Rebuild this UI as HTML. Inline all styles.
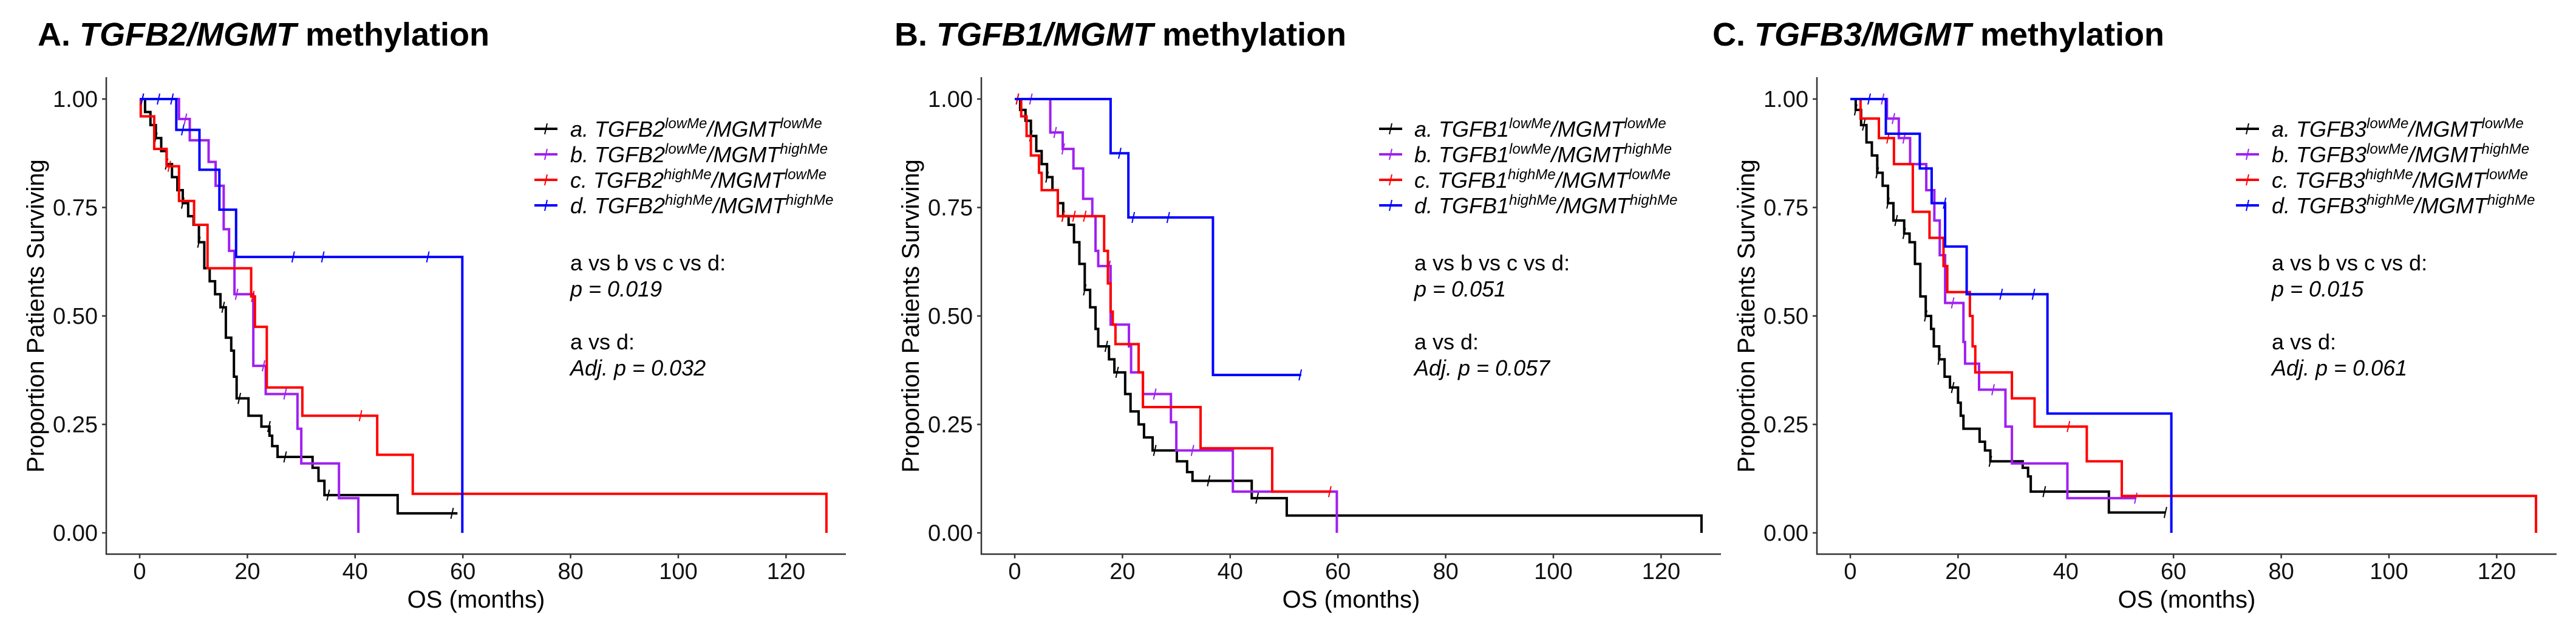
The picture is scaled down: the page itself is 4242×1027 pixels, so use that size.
<!DOCTYPE html>
<html><head><meta charset="utf-8"><style>
html,body{margin:0;padding:0;background:#fff}
svg{display:block;font-family:"Liberation Sans",Arial,sans-serif}
</style></head><body>
<svg id="fig" width="4242" height="1027" viewBox="0 0 4242 1027" xmlns="http://www.w3.org/2000/svg"></svg>
<script>
// ---- shared axis data ----
const xTickLabels = [0, 20, 40, 60, 80, 100, 120];
const yTickLabels = [0, 0.25, 0.5, 0.75, 1];
const panelLetters = ["A.", "B.", "C."];
const genes = ["TGFB2", "TGFB1", "TGFB3"];
const pOverall = ["0.019", "0.051", "0.015"];
const pAdj = ["0.032", "0.057", "0.061"];
const groupLetters = ["a.", "b.", "c.", "d."];
const sup1 = ["lowMe", "lowMe", "highMe", "highMe"];
const sup2 = ["lowMe", "highMe", "lowMe", "highMe"];

// ---- Panel A (TGFB2) ----
const A_a_t = [0,1,2,3,4,5,6,7,8,9,10,11,12,13,14,15,16,17,17.5,18,20.2,22.6,24.1,24.6,25.6,32.1,33.2,34.3,47.9,59];
const A_a_s = [1,0.97,0.94,0.91,0.88,0.85,0.82,0.79,0.76,0.73,0.71,0.67,0.61,0.58,0.55,0.52,0.45,0.42,0.36,0.31,0.27,0.245,0.224,0.2,0.175,0.15,0.12,0.087,0.045,0.045];
const A_b_t = [0,7.3,9.3,12.8,14.1,15.6,16.6,17.6,21.1,23.4,29.3,30,37,40.6];
const A_b_s = [1,0.954,0.905,0.855,0.8,0.7,0.65,0.55,0.385,0.32,0.24,0.16,0.08,0];
const A_c_t = [0,0.2,2.7,5,7.3,10.1,12.6,20.7,21.4,23.6,30.2,44.1,50.7,127.5];
const A_c_s = [1,0.96,0.885,0.845,0.765,0.71,0.61,0.545,0.475,0.335,0.27,0.18,0.09,0];
const A_d_t = [0,6.8,11.1,14.8,17.9,59.9];
const A_d_s = [1,0.929,0.837,0.745,0.636,0];
const A_a_cens = [0.5,3,5,8,11,15.5,18.5,24,27,35,58];
const A_b_cens = [8.5,18,23,27];
const A_c_cens = [5.5,21,41];
const A_d_cens = [0.5,3.5,6,8,28.5,34,53.5];

// ---- Panel B (TGFB1) ----
const B_a_t = [0,1,2,3,4,5,6,7,8,9,10,11,12,13,14,15,15.5,17.5,18.5,20.5,21.5,23,24,25.6,30.1,32,33,44,50.5,127.5];
const B_a_s = [1,0.975,0.95,0.915,0.88,0.85,0.82,0.79,0.76,0.73,0.71,0.67,0.62,0.56,0.52,0.47,0.43,0.4,0.37,0.32,0.28,0.25,0.22,0.19,0.165,0.14,0.12,0.08,0.04,0];
const B_b_t = [0,6.6,8.9,10.9,12.7,14.4,15,15.5,17.8,21.2,21.6,23.8,29,30,40.5,59.8];
const B_b_s = [1,0.923,0.885,0.84,0.77,0.73,0.65,0.615,0.48,0.43,0.37,0.32,0.255,0.19,0.095,0];
const B_c_t = [0,1.2,2.2,3,4.5,5,8,16.6,17.3,17.8,18.2,18.7,23,23.8,34.5,47.8,58.7];
const B_c_s = [1,0.96,0.915,0.87,0.83,0.79,0.73,0.65,0.575,0.51,0.48,0.435,0.37,0.29,0.195,0.095,0.095];
const B_d_t = [0,17.8,21.1,36.8,53.2];
const B_d_s = [1,0.875,0.727,0.364,0.364];
const B_a_cens = [0.5,3,6,9,13,17,19,26,36,45];
const B_b_cens = [3,7.5,9,17.5,26,33];
const B_c_cens = [0.5,9,11,13,58.5];
const B_d_cens = [19.5,22,28.5,53];

// ---- Panel C (TGFB3) ----
const C_a_t = [0,1,2,3,4,5,6,7,8,10,11,12,13,14,15,15.5,16.5,17.5,18.5,20,20.5,21,24,25,26,32,33,33.5,48,58.5];
const C_a_s = [1,0.975,0.94,0.9,0.87,0.83,0.8,0.76,0.72,0.69,0.67,0.62,0.545,0.5,0.47,0.43,0.4,0.36,0.335,0.3,0.27,0.24,0.21,0.19,0.165,0.15,0.13,0.095,0.047,0.047];
const C_b_t = [0,6.8,9,11.1,14.1,15.6,16.6,17.6,21,21.3,23.9,28.8,30,40.3,53];
const C_b_s = [1,0.955,0.91,0.85,0.79,0.72,0.64,0.53,0.44,0.39,0.33,0.245,0.16,0.08,0.08];
const C_c_t = [0,1.9,5.3,8.1,11.6,14.7,17.3,18,22.2,22.7,23.2,30,34.2,43.9,50.4,127.3];
const C_c_s = [1,0.955,0.91,0.85,0.74,0.68,0.615,0.555,0.5,0.43,0.37,0.31,0.245,0.165,0.085,0];
const C_d_t = [0,6.6,12.9,15.1,17.6,21.6,36.6,59.6];
const C_d_s = [1,0.92,0.84,0.76,0.66,0.55,0.275,0];
const C_a_cens = [1,2.5,5,7,8.5,10,14,16.5,19,26,36,58.5];
const C_b_cens = [6,8,10,19,26.5,53];
const C_c_cens = [7,40.5];
const C_d_cens = [3.5,17.5,28,34];

const colors = ["#000000", "#a020f0", "#ff0000", "#0000ff"];
const NS = "http://www.w3.org/2000/svg";
const svg = document.getElementById("fig");

const panels = [
  {x0: 230,  titleX: 62,   legLine: 880,  legText: 939,
   series: [[A_a_t,A_a_s,A_a_cens],[A_b_t,A_b_s,A_b_cens],[A_c_t,A_c_s,A_c_cens],[A_d_t,A_d_s,A_d_cens]]},
  {x0: 1671, titleX: 1473, legLine: 2271, legText: 2329,
   series: [[B_a_t,B_a_s,B_a_cens],[B_b_t,B_b_s,B_b_cens],[B_c_t,B_c_s,B_c_cens],[B_d_t,B_d_s,B_d_cens]]},
  {x0: 3047, titleX: 2820, legLine: 3682, legText: 3741,
   series: [[C_a_t,C_a_s,C_a_cens],[C_b_t,C_b_s,C_b_cens],[C_c_t,C_c_s,C_c_cens],[C_d_t,C_d_s,C_d_cens]]}
];
const PPM = 8.87, Y1 = 163, Y0 = 877;
function yS(v){ return Y0 - v * (Y0 - Y1); }

function mk(tag, attrs, parent){
  const e = document.createElementNS(NS, tag);
  for (const k in attrs) e.setAttribute(k, attrs[k]);
  (parent || svg).appendChild(e);
  return e;
}
function survAt(t, s, tt){
  let v = s[0];
  for (let i = 0; i < t.length; i++){ if (t[i] <= tt) v = s[i]; }
  return v;
}

panels.forEach((p, pi) => {
  const xS = m => p.x0 + m * PPM;
  const g = mk("g", {});
  
  

  // title
  const title = mk("text", {x: p.titleX, y: 75, "font-size": 54, "font-weight": "bold", fill: "#000"}, g);
  
  
  const t1 = mk("tspan", {}, title); t1.textContent = panelLetters[pi] + " ";
  const t2 = mk("tspan", {"font-style": "italic"}, title); t2.textContent = genes[pi] + "/MGMT";
  const t3 = mk("tspan", {}, title); t3.textContent = " methylation";

  // axes
  const left = p.x0 - 55, right = p.x0 + 1163;
  const yax = mk("line", {x1: left, y1: 127, x2: left, y2: 913, stroke: "#333", "stroke-width": 2.5}, g);
  
  
  const xax = mk("line", {x1: left - 1, y1: 912, x2: right, y2: 912, stroke: "#333", "stroke-width": 2.5}, g);
  
  

  yTickLabels.forEach(v => {
    const y = yS(v);
    const tk = mk("line", {x1: left - 7, y1: y, x2: left, y2: y, stroke: "#333", "stroke-width": 2.5}, g);
    
    
    const lb = mk("text", {x: left - 14, y: y + 13, "font-size": 38, "text-anchor": "end", fill: "#111"}, g);
    
    
    lb.textContent = v.toFixed(2);
  });
  xTickLabels.forEach(v => {
    const x = xS(v);
    const tk = mk("line", {x1: x, y1: 912, x2: x, y2: 919, stroke: "#333", "stroke-width": 2.5}, g);
    
    
    const lb = mk("text", {x: x, y: 953, "font-size": 38, "text-anchor": "middle", fill: "#111"}, g);
    
    
    lb.textContent = v;
  });
  const xt = mk("text", {x: (left + right) / 2, y: 1000, "font-size": 40, "text-anchor": "middle", fill: "#000"}, g);
  
  
  xt.textContent = "OS (months)";
  const ytx = p.x0 - 158;
  const yt = mk("text", {x: ytx, y: 520, "font-size": 40, "text-anchor": "middle", fill: "#000",
    transform: "rotate(-90 " + ytx + " 520)"}, g);
  
  
  yt.textContent = "Proportion Patients Surviving";

  // curves
  p.series.forEach((sr, si) => {
    const [t, s, cens] = sr;
    let d = "M" + xS(t[0]) + " " + yS(s[0]);
    for (let i = 1; i < t.length; i++){
      d += " H" + xS(t[i]) + " V" + yS(s[i]);
    }
    const path = mk("path", {d: d, fill: "none", stroke: colors[si], "stroke-width": 4, "stroke-linejoin": "miter"}, g);
    
    
    cens.forEach(c => {
      const cx = xS(c), cy = yS(survAt(t, s, c));
      const cm = mk("line", {x1: cx - 2, y1: cy + 9, x2: cx + 2, y2: cy - 9, stroke: colors[si], "stroke-width": 2}, g);
      
      
    });
  });

  // legend
  const legY = [212, 254, 296, 338];
  groupLetters.forEach((gl, si) => {
    const lg = mk("g", {}, g);
    
    
    mk("line", {x1: p.legLine, y1: legY[si], x2: p.legLine + 38, y2: legY[si], stroke: colors[si], "stroke-width": 4}, lg);
    mk("line", {x1: p.legLine + 17, y1: legY[si] + 9, x2: p.legLine + 21, y2: legY[si] - 9, stroke: colors[si], "stroke-width": 2}, lg);
    const tx = mk("text", {x: p.legText, y: legY[si] + 13, "font-size": 36, "font-style": "italic", fill: "#000"}, lg);
    const a = mk("tspan", {}, tx); a.textContent = gl + " " + genes[pi];
    const b = mk("tspan", {dy: -14, "font-size": 24}, tx); b.textContent = sup1[si];
    const c = mk("tspan", {dy: 14}, tx); c.textContent = "/MGMT";
    const d = mk("tspan", {dy: -14, "font-size": 24}, tx); d.textContent = sup2[si];
  });

  // stats
  const st = [["a vs b vs c vs d:", 445, false], ["p = " + pOverall[pi], 488, true],
              ["a vs d:", 575, false], ["Adj. p = " + pAdj[pi], 618, true]];
  st.forEach((r, ri) => {
    const e = mk("text", {x: p.legText, y: r[1], "font-size": 36, fill: "#000", "font-style": r[2] ? "italic" : "normal"}, g);
    
    
    e.textContent = r[0];
  });
});
</script>
</body></html>
